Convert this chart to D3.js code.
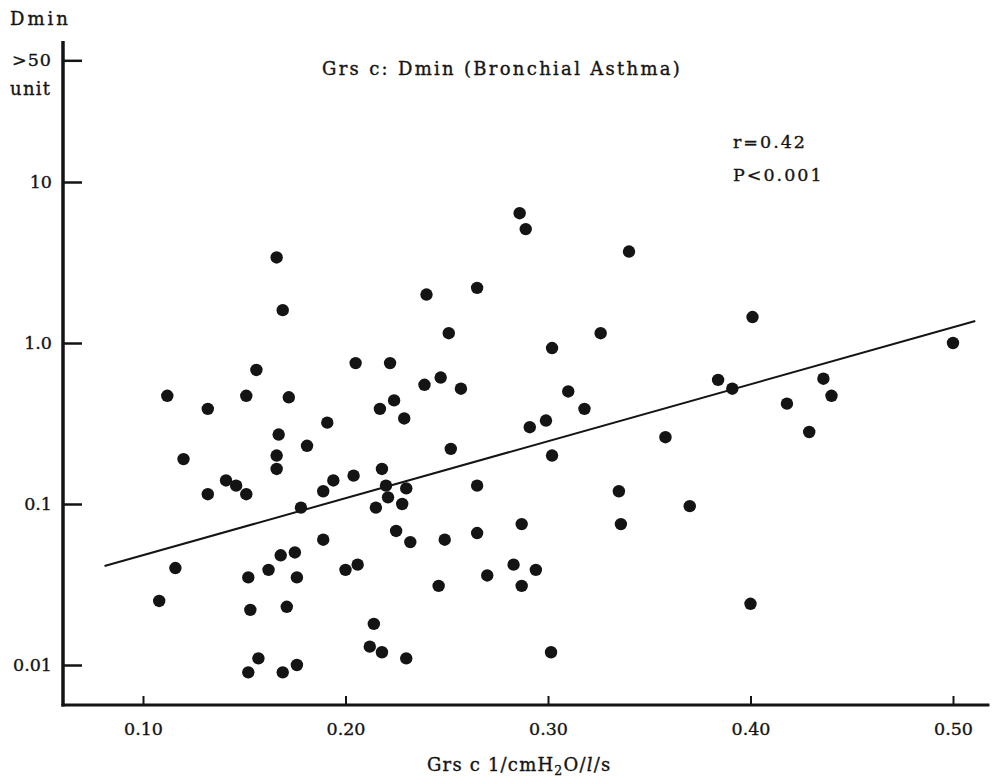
<!DOCTYPE html>
<html>
<head>
<meta charset="utf-8">
<script src="https://cdn.jsdelivr.net/npm/d3@7"></script>
<style>
  body { margin: 0; background: #fff; }
  text { font-family: "DejaVu Serif", "Liberation Serif", serif; fill: #141414; stroke: #141414; stroke-width: 0.35px; }
</style>
</head>
<body>
<svg id="chart" width="997" height="778"></svg>
<script>
// Grs c (1/cmH2O/l/s) against Dmin (unit), bronchial asthma patients
const grsC = [
  0.108, 0.116, 0.112, 0.120, 0.132, 0.132, 0.141, 0.146, 0.151, 0.151,
  0.152, 0.153, 0.152, 0.156, 0.157, 0.162, 0.166, 0.166, 0.166, 0.167,
  0.168, 0.169, 0.169, 0.171, 0.172, 0.175, 0.176, 0.176, 0.178, 0.181,
  0.189, 0.189, 0.191, 0.194, 0.200, 0.204, 0.205, 0.206, 0.212, 0.214,
  0.215, 0.217, 0.218, 0.218, 0.220, 0.221, 0.222, 0.224, 0.225, 0.228,
  0.229, 0.230, 0.230, 0.232, 0.239, 0.240, 0.246, 0.247, 0.249, 0.251,
  0.252, 0.257, 0.265, 0.265, 0.265, 0.270, 0.283, 0.286, 0.287, 0.287,
  0.289, 0.291, 0.294, 0.299, 0.3015, 0.302, 0.302, 0.310, 0.318, 0.326,
  0.335, 0.336, 0.340, 0.358, 0.370, 0.384, 0.391, 0.400, 0.401, 0.418,
  0.429, 0.436, 0.440, 0.500
];
const dmin = [
  0.025, 0.040, 0.47, 0.19, 0.39, 0.115, 0.14, 0.13, 0.115, 0.47,
  0.035, 0.022, 0.009, 0.68, 0.011, 0.039, 3.4, 0.20, 0.165, 0.27,
  0.048, 1.6, 0.009, 0.023, 0.46, 0.050, 0.035, 0.010, 0.095, 0.23,
  0.060, 0.12, 0.32, 0.14, 0.039, 0.15, 0.75, 0.042, 0.013, 0.018,
  0.095, 0.39, 0.165, 0.012, 0.13, 0.11, 0.75, 0.44, 0.068, 0.10,
  0.34, 0.125, 0.011, 0.058, 0.55, 2.0, 0.031, 0.61, 0.060, 1.15,
  0.22, 0.52, 2.2, 0.13, 0.066, 0.036, 0.042, 6.4, 0.075, 0.031,
  5.1, 0.30, 0.039, 0.33, 0.012, 0.93, 0.20, 0.50, 0.39, 1.15,
  0.12, 0.075, 3.7, 0.26, 0.097, 0.59, 0.52, 0.024, 1.45, 0.42,
  0.28, 0.60, 0.47, 1.0
];

const xTicks = [0.10, 0.20, 0.30, 0.40, 0.50];
const xTickLabels = ["0.10", "0.20", "0.30", "0.40", "0.50"];
// the top tick collects every value above 50 units
const yTicks = [0.01, 0.1, 1, 10, 57];
const yTickLabels = ["0.01", "0.1", "1.0", "10", ">50"];

// regression: log10(Dmin) = intercept + slope * Grs c
const fitCoef = [-1.672, 3.54];
const fitRange = [0.081, 0.511];

const svg = d3.select("#chart");

const x = d3.scaleLinear().domain([0.10, 0.50]).range([143, 953]);
const y = d3.scaleLog().domain([0.01, 10]).range([665, 182]);

const xAxisY = 705, yAxisX = 63;
const xEnd = 0.518;   // right end of the x axis line
const yTop = 75;      // top end of the y axis line (units)

// x axis
const gx = svg.append("g").attr("transform", `translate(0,${xAxisY})`)
  .call(d3.axisBottom(x)
    .tickValues(xTicks)
    .tickFormat((d, i) => xTickLabels[i])
    .tickSizeInner(-9).tickSizeOuter(0).tickPadding(18));
gx.select(".domain").remove();
gx.selectAll(".tick line").attr("stroke", "#141414").attr("stroke-width", 2);
gx.selectAll(".tick text").attr("font-size", 17.5).attr("font-family", null).attr("fill", "#141414");

// y axis
const gy = svg.append("g").attr("transform", `translate(${yAxisX},0)`)
  .call(d3.axisLeft(y)
    .tickValues(yTicks)
    .tickFormat((d, i) => yTickLabels[i])
    .tickSizeInner(-19).tickSizeOuter(0).tickPadding(11));
gy.select(".domain").remove();
gy.selectAll(".tick line").attr("stroke", "#141414").attr("stroke-width", 2.5);
gy.selectAll(".tick text").attr("font-size", 17.5).attr("font-family", null).attr("fill", "#141414")
  .attr("letter-spacing", (d, i) => yTickLabels[i] === ">50" ? 1 : 0);

// axis lines
svg.append("line")
  .attr("x1", yAxisX).attr("x2", yAxisX)
  .attr("y1", y(yTop)).attr("y2", xAxisY + 1.5)
  .attr("stroke", "#141414").attr("stroke-width", 3.5);
svg.append("line")
  .attr("x1", yAxisX - 1.5).attr("x2", x(xEnd))
  .attr("y1", xAxisY).attr("y2", xAxisY)
  .attr("stroke", "#141414").attr("stroke-width", 3);

// regression line
const fitPts = fitRange.map(v => [x(v), y(Math.pow(10, fitCoef[0] + fitCoef[1] * v))]);
svg.append("path")
  .attr("d", d3.line()(fitPts))
  .attr("stroke", "#141414").attr("stroke-width", 2).attr("fill", "none");

// points
svg.append("g").selectAll("circle")
  .data(grsC.map((v, i) => [v, dmin[i]]))
  .join("circle")
  .attr("cx", d => x(d[0]))
  .attr("cy", d => y(d[1]))
  .attr("r", 6.2)
  .attr("fill", "#141414");

// texts
svg.append("text").attr("x", 10).attr("y", 25).attr("font-size", 18)
  .attr("letter-spacing", 3).text("Dmin");
svg.append("text").attr("x", 10).attr("y", 95).attr("font-size", 18)
  .attr("letter-spacing", 1.3).text("unit");

svg.append("text").attr("x", 322).attr("y", 75).attr("font-size", 18)
  .attr("letter-spacing", 2.3)
  .text("Grs c: Dmin (Bronchial Asthma)");

svg.append("text").attr("x", 733).attr("y", 148).attr("font-size", 17.5)
  .attr("letter-spacing", 2).text("r=0.42");
svg.append("text").attr("x", 733).attr("y", 181).attr("font-size", 17.5)
  .attr("letter-spacing", 2).text("P<0.001");

const xl = svg.append("text").attr("x", 427).attr("y", 771).attr("font-size", 18)
  .attr("letter-spacing", 1.2);
xl.append("tspan").text("Grs c 1/cmH");
xl.append("tspan").attr("font-size", 12.5).attr("dy", 4).text("2");
xl.append("tspan").attr("dy", -4).text("O/");
xl.append("tspan").attr("font-style", "italic").text("l");
xl.append("tspan").text("/s");
</script>
</body>
</html>
